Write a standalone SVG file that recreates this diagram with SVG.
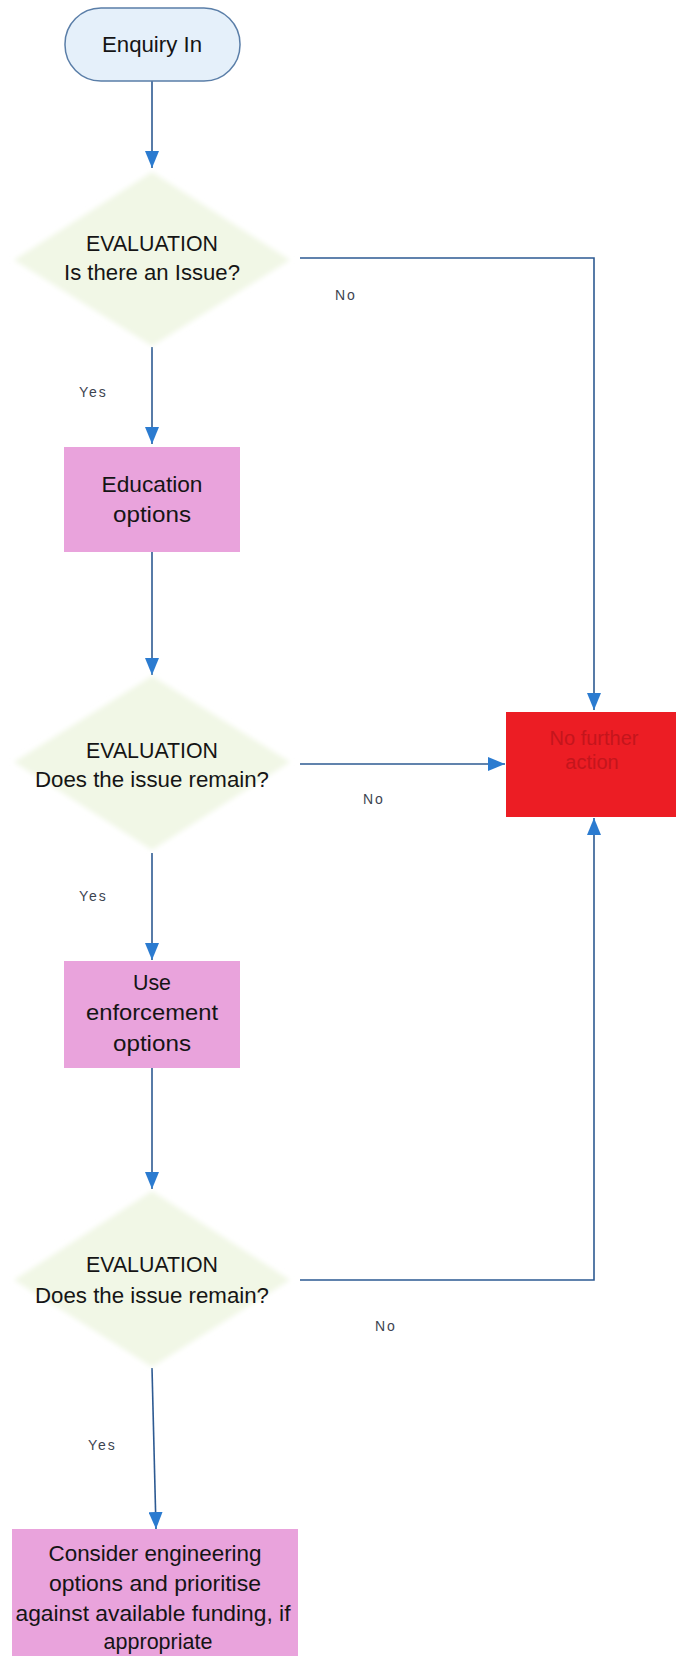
<svg xmlns="http://www.w3.org/2000/svg" width="676" height="1656" viewBox="0 0 676 1656">
<style>
.t{font-family:"Liberation Sans",Arial,sans-serif;font-size:21.5px;fill:#151515;text-anchor:middle}
.lbl{font-family:"Liberation Sans",Arial,sans-serif;font-size:14px;fill:#3c4450;letter-spacing:2px}
.ln{fill:none;stroke:#2d5a92;stroke-width:1.6}
.pink{fill:#e9a3dc}
.dia{fill:#f1f7e6;filter:url(#soft)}
</style>
<defs>
<marker id="ah" viewBox="0 0 17 14" refX="17" refY="7" markerWidth="17" markerHeight="14" orient="auto" markerUnits="userSpaceOnUse">
<path d="M0,0 L17,7 L0,14 z" fill="#2b7bd0"/>
</marker>
<filter id="soft" x="-10%" y="-10%" width="120%" height="120%"><feGaussianBlur stdDeviation="2.5"/></filter>
</defs>
<rect width="676" height="1656" fill="#ffffff"/>

<g id="connectors">
<line class="ln" x1="152" y1="81" x2="152" y2="168" marker-end="url(#ah)"/>
<polyline class="ln" points="300,258 594,258 594,710" marker-end="url(#ah)"/>
<line class="ln" x1="152" y1="347" x2="152" y2="444" marker-end="url(#ah)"/>
<line class="ln" x1="152" y1="552" x2="152" y2="675" marker-end="url(#ah)"/>
<line class="ln" x1="300" y1="764" x2="505" y2="764" marker-end="url(#ah)"/>
<line class="ln" x1="152" y1="853" x2="152" y2="960" marker-end="url(#ah)"/>
<line class="ln" x1="152" y1="1068" x2="152" y2="1189" marker-end="url(#ah)"/>
<polyline class="ln" points="300,1280 594,1280 594,818" marker-end="url(#ah)"/>
<line class="ln" x1="152" y1="1368" x2="156" y2="1529" marker-end="url(#ah)"/>
<text class="lbl" x="335" y="300">No</text>
<text class="lbl" x="79" y="397">Yes</text>
<text class="lbl" x="363" y="804">No</text>
<text class="lbl" x="79" y="901">Yes</text>
<text class="lbl" x="375" y="1331">No</text>
<text class="lbl" x="88" y="1450">Yes</text>
</g>

<g id="start">
<rect x="65" y="8" width="175" height="73" rx="36" ry="36" fill="#e5f0fa" stroke="#5a7ea8" stroke-width="1.5"/>
<text class="t" x="152" y="52" textLength="100" lengthAdjust="spacingAndGlyphs">Enquiry In</text>
</g>

<g id="eval1">
<polygon class="dia" points="152,172 290,260 152,346 14,260"/>
<text class="t" x="152" y="251" textLength="132" lengthAdjust="spacingAndGlyphs">EVALUATION</text>
<text class="t" x="152" y="280" textLength="176" lengthAdjust="spacingAndGlyphs">Is there an Issue?</text>
</g>

<g id="education">
<rect class="pink" x="64" y="447" width="176" height="105"/>
<text class="t" x="152" y="492" textLength="101" lengthAdjust="spacingAndGlyphs">Education</text>
<text class="t" x="152" y="522" textLength="78" lengthAdjust="spacingAndGlyphs">options</text>
</g>

<g id="eval2">
<polygon class="dia" points="152,676 290,762 152,850 14,762"/>
<text class="t" x="152" y="758" textLength="132" lengthAdjust="spacingAndGlyphs">EVALUATION</text>
<text class="t" x="152" y="787" textLength="234" lengthAdjust="spacingAndGlyphs">Does the issue remain?</text>
</g>

<g id="nofurther">
<rect x="506" y="712" width="174" height="105" fill="#ec1d24"/>
<text class="t" x="594" y="745" style="fill:#c4151c;font-size:20px">No further</text>
<text class="t" x="592" y="769" style="fill:#c4151c;font-size:20px">action</text>
</g>

<g id="enforcement">
<rect class="pink" x="64" y="961" width="176" height="107"/>
<text class="t" x="152" y="990" textLength="38" lengthAdjust="spacingAndGlyphs">Use</text>
<text class="t" x="152" y="1020" textLength="132" lengthAdjust="spacingAndGlyphs">enforcement</text>
<text class="t" x="152" y="1051" textLength="78" lengthAdjust="spacingAndGlyphs">options</text>
</g>

<g id="eval3">
<polygon class="dia" points="152,1191 290,1280 152,1367 14,1280"/>
<text class="t" x="152" y="1272" textLength="132" lengthAdjust="spacingAndGlyphs">EVALUATION</text>
<text class="t" x="152" y="1303" textLength="234" lengthAdjust="spacingAndGlyphs">Does the issue remain?</text>
</g>

<g id="engineering">
<rect class="pink" x="12" y="1529" width="286" height="127"/>
<text class="t" x="155" y="1561" textLength="213" lengthAdjust="spacingAndGlyphs">Consider engineering</text>
<text class="t" x="155" y="1591" textLength="212" lengthAdjust="spacingAndGlyphs">options and prioritise</text>
<text class="t" x="153" y="1621" textLength="275" lengthAdjust="spacingAndGlyphs">against available funding, if</text>
<text class="t" x="158" y="1649">appropriate</text>
</g>
</svg>
